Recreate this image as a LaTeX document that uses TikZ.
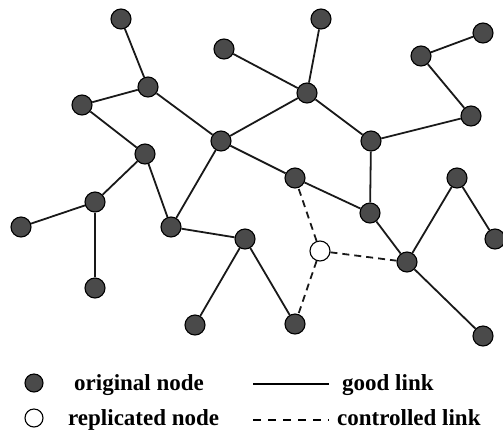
\documentclass[tikz,border=0pt]{standalone}
\usepackage{fontspec}
\setmainfont{Liberation Serif}
\definecolor{nodegray}{HTML}{4A4A4A}
\begin{document}
\begin{tikzpicture}[x=1pt,y=-1pt,
  orig/.style={circle,draw=black,line width=1.1pt,fill=nodegray,minimum size=20pt,inner sep=0pt},
  repl/.style={circle,draw=black,line width=1.1pt,fill=white,minimum size=20pt,inner sep=0pt},
  good/.style={draw=black!90,line width=1.8pt},
  ctrl/.style={draw=black!90,line width=1.8pt,dash pattern=on 7pt off 5pt},
  legtext/.style={font=\bfseries\fontsize{23}{27}\selectfont,inner sep=0pt,anchor=base west}]
\useasboundingbox (0,0) rectangle (503,429);

% network nodes
\node[orig] (n1)  at (121,19)  {};
\node[orig] (n2)  at (148,87)  {};
\node[orig] (n3)  at (82,105)  {};
\node[orig] (n4)  at (145,154) {};
\node[orig] (n5)  at (95,202)  {};
\node[orig] (n6)  at (21,227)  {};
\node[orig] (n7)  at (95,288)  {};
\node[orig] (n8)  at (171,227) {};
\node[orig] (n9)  at (221,141) {};
\node[orig] (n10) at (224,49)  {};
\node[orig] (n11) at (321,19)  {};
\node[orig] (n12) at (307,93)  {};
\node[orig] (n13) at (245,239) {};
\node[orig] (n14) at (195,325) {};
\node[orig] (n15) at (295,324) {};
\node[orig] (n16) at (295,178) {};
\node[orig] (n17) at (371,141) {};
\node[orig] (n18) at (370,213) {};
\node[repl] (n19) at (320,251) {};
\node[orig] (n20) at (407,262) {};
\node[orig] (n21) at (457,178) {};
\node[orig] (n22) at (495,239) {};
\node[orig] (n23) at (483,336) {};
\node[orig] (n24) at (421,56)  {};
\node[orig] (n25) at (483,33)  {};
\node[orig] (n26) at (471,116) {};

% good links
\draw[good] (n1) -- (n2);
\draw[good] (n2) -- (n3);
\draw[good] (n3) -- (n4);
\draw[good] (n2) -- (n9);
\draw[good] (n4) -- (n5);
\draw[good] (n5) -- (n6);
\draw[good] (n5) -- (n7);
\draw[good] (n4) -- (n8);
\draw[good] (n8) -- (n9);
\draw[good] (n8) -- (n13);
\draw[good] (n13) -- (n14);
\draw[good] (n13) -- (n15);
\draw[good] (n9) -- (n12);
\draw[good] (n10) -- (n12);
\draw[good] (n11) -- (n12);
\draw[good] (n12) -- (n17);
\draw[good] (n9) -- (n16);
\draw[good] (n16) -- (n18);
\draw[good] (n17) -- (n18);
\draw[good] (n18) -- (n20);
\draw[good] (n20) -- (n21);
\draw[good] (n21) -- (n22);
\draw[good] (n20) -- (n23);
\draw[good] (n17) -- (n26);
\draw[good] (n26) -- (n24);
\draw[good] (n24) -- (n25);

% controlled links of the replicated node
\draw[ctrl] (n19) -- (n16);
\draw[ctrl] (n19) -- (n20);
\draw[ctrl] (n19) -- (n15);

% legend
\node[orig,minimum size=18pt] (lorig) at (34,383) {};
\node[repl,minimum size=18pt] (lrepl) at (34,418) {};
\node[legtext] (torig) at (74,390) {original node};
\node[legtext] (trepl) at (68,425) {replicated node};
\coordinate (ga) at (253,384);
\coordinate (gb) at (329,384);
\coordinate (ca) at (253,420);
\coordinate (cb) at (329,420);
\draw[draw=black,line width=2pt] (ga) -- (gb);
\draw[draw=black,line width=2.8pt,dash pattern=on 8pt off 7pt] (ca) -- (cb);
\node[legtext] (tgood) at (342,390) {good link};
\node[legtext] (tctrl) at (337,425) {controlled link};
\end{tikzpicture}
\end{document}
